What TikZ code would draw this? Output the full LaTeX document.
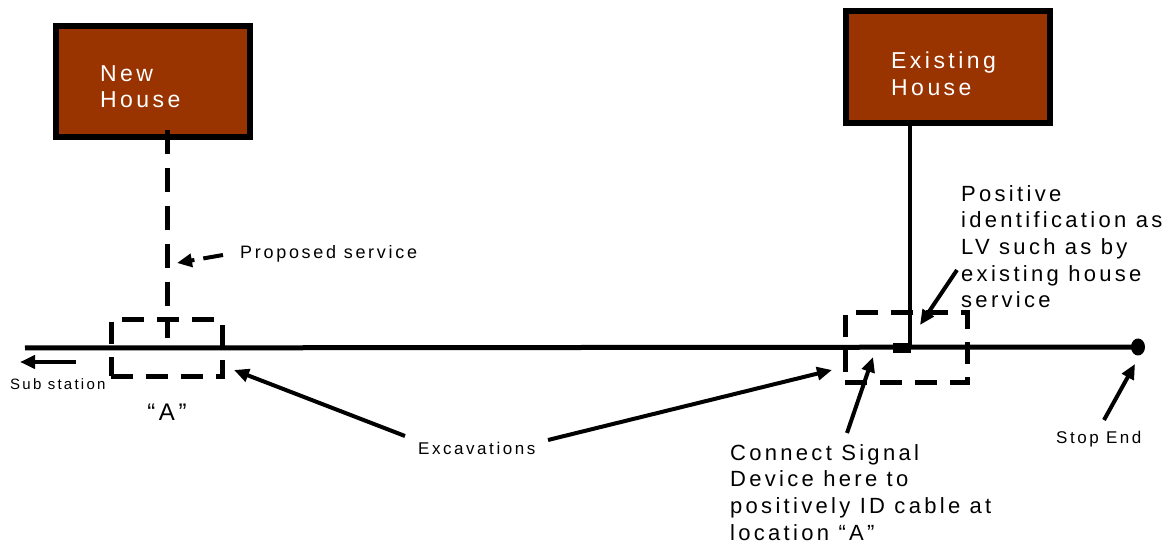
\documentclass[tikz,border=0pt]{standalone}
\usepackage{fontspec}
\setmainfont{Liberation Sans}[LetterSpace=15]
\usetikzlibrary{arrows.meta,shapes.geometric}
\definecolor{housebrown}{RGB}{153,51,0}
\begin{document}
\begin{tikzpicture}[x=1pt,y=-1pt,
  housebox/.style={draw=black,line width=6pt,fill=housebrown,inner sep=0pt},
  housetxt/.style={text=white,font=\fontsize{23}{26.5}\selectfont,align=left,inner sep=0pt,anchor=north west},
  dbox/.style={draw=black,line width=5pt,dash pattern=on 22pt off 13pt,inner sep=0pt},
  arr/.style={draw=black,line width=4pt,-{Triangle[length=15pt,width=13pt]}},
  lbl/.style={font=\fontsize{22}{26.7}\selectfont,align=left,inner sep=0pt,anchor=north west},
  small/.style={font=\fontsize{17}{20}\selectfont,inner sep=0pt,anchor=base west}
]
\useasboundingbox (0,0) rectangle (1173,545);

% houses
\node[housebox,minimum width=194pt,minimum height=111pt] (newh) at (153,81.5) {};
\node[housetxt] (newtxt) at (100,65) {New\\House};
\node[housebox,minimum width=204pt,minimum height=112pt] (exh) at (948,67) {};
\node[housetxt] (extxt) at (891,52) {Existing\\House};

% main cable
\coordinate (west) at (25,348);
\node[ellipse,fill=black,minimum width=14pt,minimum height=17pt,inner sep=0pt] (stop) at (1138,347) {};
\draw[line width=5pt] (west) -- (stop.center);

% excavation boxes
\node[dbox,minimum width=111pt,minimum height=56pt] (exA) at (166.5,348) {};
\node[dbox,minimum width=122pt,minimum height=69pt] (exB) at (906,347.5) {};

% existing service and joint
\node[fill=black,minimum width=18pt,minimum height=10pt,inner sep=0pt] (joint) at (902,348) {};
\coordinate (svc) at (910,346);
\draw[line width=4pt] (exh.south -| svc) -- (svc);

% proposed service
\coordinate (newsvc) at (167,338);
\draw[line width=5pt,dash pattern=on 24pt off 14pt] ([yshift=10pt]newh.south -| newsvc) -- (newsvc);

% labels
\node[font=\fontsize{18}{21}\selectfont,inner sep=0pt,anchor=base west] (ps) at (240,259) {Proposed service};
\node[font=\fontsize{15}{18}\selectfont,inner sep=0pt,anchor=base west] (sub) at (10,389.5) {Sub station};
\node[font=\fontsize{24}{28}\selectfont,inner sep=0pt,anchor=base] (alabel) at (167,420) {“A”};
\node[small] (exc) at (418,454) {Excavations};
\node[small] (stoplbl) at (1056,443) {Stop End};
\node[lbl] (pid) at (961,185) {Positive\\identification as\\LV such as by\\existing house\\service};
\node[lbl] (csd) at (730,444) {Connect Signal\\Device here to\\positively ID cable at\\location “A”};

% arrows
\coordinate (subtail) at (76,362);
\coordinate (subtip) at (20,362);
\draw[arr] (subtail) -- (subtip);

\coordinate (pstail) at (223,255);
\coordinate (pstip) at (177,263);
\draw[arr,dash pattern=on 20pt off 9pt] (pstail) -- (pstip);

\coordinate (pidtail) at (957,270);
\coordinate (pidtip) at (920,325);
\draw[arr] (pidtail) -- (pidtip);

\coordinate (csdtail) at (847,433);
\coordinate (csdtip) at (873,357);
\draw[arr] (csdtail) -- (csdtip);

\coordinate (stoptail) at (1104,420);
\coordinate (stoptip) at (1135,364);
\draw[arr] (stoptail) -- (stoptip);

\coordinate (exctailL) at (405,436);
\coordinate (exctipL) at (234,370);
\draw[arr] (exctailL) -- (exctipL);

\coordinate (exctailR) at (548,440);
\coordinate (exctipR) at (832,370);
\draw[arr] (exctailR) -- (exctipR);
\end{tikzpicture}
\end{document}
